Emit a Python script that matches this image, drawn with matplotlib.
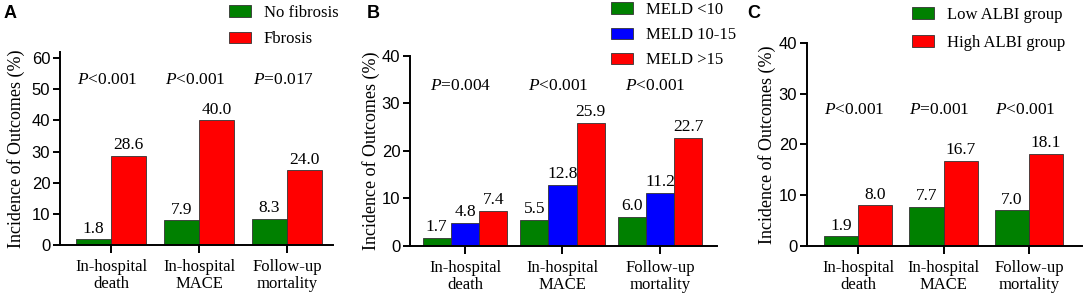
import numpy as np
import matplotlib
matplotlib.use("Agg")
import matplotlib.pyplot as plt

# outcome categories (shared by all panels)
categories = ["In-hospital\ndeath", "In-hospital\nMACE", "Follow-up\nmortality"]

# panel A: fibrosis
a_labels = ["No fibrosis", "Fbrosis"]
a_no_fib = [1.8, 7.9, 8.3]
a_fib = [28.6, 40.0, 24.0]
a_p = ["<0.001", "<0.001", "=0.017"]

# panel B: MELD score
b_labels = ["MELD <10", "MELD 10-15", "MELD >15"]
b_low = [1.7, 5.5, 6.0]
b_mid = [4.8, 12.8, 11.2]
b_high = [7.4, 25.9, 22.7]
b_p = ["=0.004", "<0.001", "<0.001"]

# panel C: ALBI grade
c_labels = ["Low ALBI group", "High ALBI group"]
c_low = [1.9, 7.7, 7.0]
c_high = [8.0, 16.7, 18.1]
c_p = ["<0.001", "=0.001", "<0.001"]

GREEN = "#008000"
RED = "#ff0000"
BLUE = "#0000ff"
SERIF = "Liberation Serif"
SANS = "Liberation Sans"

W, H = 1084, 297
fig = plt.figure(figsize=(W / 100, H / 100), dpi=100)


def px_axes(left, right, bottom, top):
	return fig.add_axes([left / W, 1 - bottom / H, (right - left) / W, (bottom - top) / H])


def panel(ax, series, colors, labels, width, ylim, yticks, xlim, p_y, p_text, letter, letter_x, leg_x, leg_y, leg_spacing, ylab_pad):
	x = np.arange(len(categories))
	n = len(series)
	for i, (vals, col, lab) in enumerate(zip(series, colors, labels)):
		off = (i - (n - 1) / 2) * width
		bars = ax.bar(x + off, vals, width, color=col, edgecolor="#333333", linewidth=0.6, label=lab)
		for b, v in zip(bars, vals):
			ax.annotate("{:.1f}".format(v), (b.get_x() + b.get_width() / 2, v), xytext=(0, 2),
				textcoords="offset points", ha="center", va="bottom", fontsize=12.5, family=SERIF)
	for xi, p in zip(x, p_text):
		ax.annotate(r"$\mathit{P}$" + p, (xi, p_y), xytext=(-3, 0), textcoords="offset points",
			ha="center", va="center", fontsize=12.5, family=SERIF)
	ax.set_ylim(*ylim)
	ax.set_xlim(*xlim)
	ax.set_yticks(yticks)
	ax.set_xticks(x)
	ax.set_xticklabels(categories, fontsize=12, family=SERIF, linespacing=1.1)
	for t in ax.get_yticklabels():
		t.set_family(SANS)
		t.set_fontsize(12)
	ax.set_ylabel("Incidence of Outcomes (%)", fontsize=13, family=SERIF, labelpad=ylab_pad)
	for s in ["top", "right"]:
		ax.spines[s].set_visible(False)
	for s in ["left", "bottom"]:
		ax.spines[s].set_linewidth(1.4)
	ax.tick_params(axis="y", length=5, width=1.4, pad=2)
	ax.tick_params(axis="x", length=6, width=1.4, pad=4)
	fig.text(letter_x / W, 1 - 13 / H, letter, fontsize=13, fontweight="bold", family=SANS, va="center")
	ax.legend(loc="upper left", bbox_to_anchor=(leg_x / W, 1 - leg_y / H), bbox_transform=fig.transFigure,
		frameon=False, handlelength=1.3, handleheight=0.7, handletextpad=0.8, labelspacing=leg_spacing,
		borderaxespad=0, borderpad=0, prop={"family": SERIF, "size": 12})


plt.rcParams["mathtext.fontset"] = "custom"
plt.rcParams["mathtext.it"] = "Liberation Serif:italic"

axA = px_axes(60, 333, 245, 52)
panel(axA, [a_no_fib, a_fib], [GREEN, RED], a_labels, 0.4, (0, 62), range(0, 61, 10), (-0.58, 2.52),
	53, a_p, "A", 4, 229, 5, 0.62, 5)

axB = px_axes(410, 717, 245.7, 56)
panel(axB, [b_low, b_mid, b_high], [GREEN, BLUE, RED], b_labels, 0.29, (0, 40), range(0, 41, 10), (-0.564, 2.585),
	33.7, b_p, "B", 367, 611, 2, 0.55, 1)

axC = px_axes(807, 1082, 246, 42.7)
panel(axC, [c_low, c_high], [GREEN, RED], c_labels, 0.4, (0, 40), range(0, 41, 10), (-0.6, 2.62),
	26.8, c_p, "C", 747, 912, 7, 0.72, 2)

fig.savefig("out.png", dpi=100)
